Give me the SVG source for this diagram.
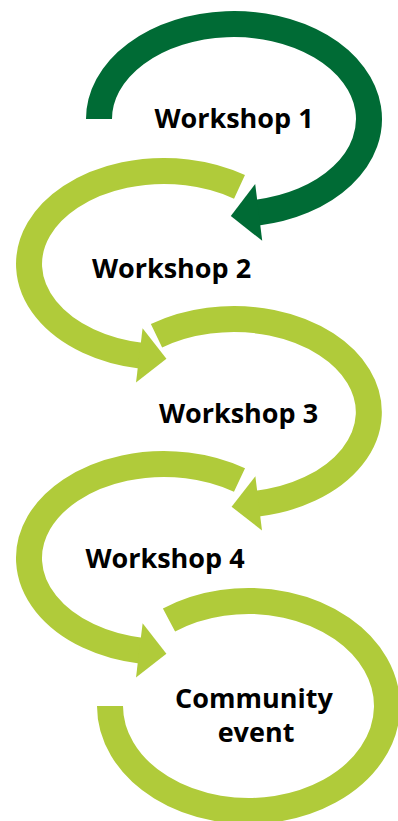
<svg xmlns="http://www.w3.org/2000/svg" width="398" height="821" viewBox="0 0 398 821">
<style>
.ring{fill:none;stroke-width:26;stroke-linecap:butt}
.dark{stroke:#006b35}
.light{stroke:#b0cb3a}
.lbl{font-family:"Open Sans","Liberation Sans",sans-serif;font-weight:700;font-size:27px;fill:#000;text-anchor:middle}
</style>
<defs>
<marker id="headDark" markerUnits="strokeWidth" viewBox="0 -1.2 1.2 2.4" markerWidth="1.2" markerHeight="2.4" refX="0.05" refY="0" orient="auto" overflow="visible">
<path d="M0,-1.1 L1.08,0 L0,1.1 Z" fill="#006b35"/>
</marker>
<marker id="headLight" markerUnits="strokeWidth" viewBox="0 -1.2 1.2 2.4" markerWidth="1.2" markerHeight="2.4" refX="0.05" refY="0" orient="auto" overflow="visible">
<path d="M0,-1.05 L1.05,0 L0,1.05 Z" fill="#b0cb3a"/>
</marker>
</defs>
<rect width="398" height="821" fill="#fff"/>
<g id="connectors">
<path id="arc1" class="ring dark" d="M99,119 A135,95 0 1 1 257.4,212.6" marker-end="url(#headDark)"/>
<path id="arc2" class="ring light" d="M239.5,186.9 A135,93 0 1 0 140.6,355.6" marker-end="url(#headLight)"/>
<path id="arc3" class="ring light" d="M156.5,335.8 A135,93 0 1 1 257.4,503.6" marker-end="url(#headLight)"/>
<path id="arc4" class="ring light" d="M239.5,480.1 A135,94 0 1 0 140.6,650.6" marker-end="url(#headLight)"/>
<path id="arc5" class="ring light" d="M169,620 A138.5,105 0 1 1 110,706"/>
</g>
<g id="node1"><text class="lbl" x="234" y="128">Workshop 1</text></g>
<g id="node2"><text class="lbl" x="171.5" y="278">Workshop 2</text></g>
<g id="node3"><text class="lbl" x="238.5" y="423">Workshop 3</text></g>
<g id="node4"><text class="lbl" x="165" y="568">Workshop 4</text></g>
<g id="node5"><text class="lbl" x="254" y="708">Community</text><text class="lbl" x="256" y="742">event</text></g>
</svg>
